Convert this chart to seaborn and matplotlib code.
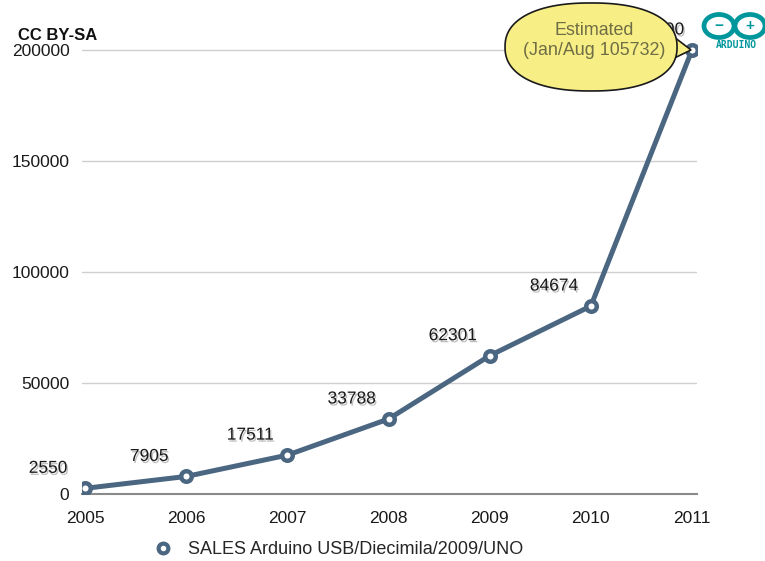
import matplotlib
matplotlib.use("Agg")
import matplotlib.pyplot as plt
import matplotlib.patheffects as pe
import matplotlib.transforms as mtransforms
from matplotlib.lines import Line2D
from matplotlib.patches import Ellipse, Polygon
import numpy as np
import seaborn as sns
import pandas as pd

years = [2005, 2006, 2007, 2008, 2009, 2010, 2011]
sales = [2550, 7905, 17511, 33788, 62301, 84674, 200000]
yticks = [0, 50000, 100000, 150000, 200000]
series_name = "SALES Arduino USB/Diecimila/2009/UNO"
bubble_text = "Estimated\n(Jan/Aug 105732)"

sns.set_theme(style="white")
plt.rcParams["font.family"] = ["Liberation Sans", "DejaVu Sans"]

df = pd.DataFrame({"year": years, "sales": sales})
line_color = "#4a6681"

fig = plt.figure(figsize=(7.65, 5.61), dpi=100)
ax = fig.add_axes([82 / 765, 67 / 561, 615 / 765, 474 / 561])

sns.lineplot(data=df, x="year", y="sales", ax=ax, color=line_color, lw=3.6,
             marker="o", markersize=7.6, markerfacecolor="white",
             markeredgecolor=line_color, markeredgewidth=3.2, zorder=5)

ax.set_xlim(2004.970, 2011.049)
ax.set_ylim(0, 213500)
ax.set_yticks(yticks)
ax.set_yticklabels([str(v) for v in yticks])
ax.set_xticks(years)
ax.set_xticklabels([str(y) for y in years])
ax.set_xlabel("")
ax.set_ylabel("")
ax.grid(axis="y", color="#cfcfcf", lw=1)
ax.grid(axis="x", visible=False)
for s in ["top", "right", "left"]:
    ax.spines[s].set_visible(False)
ax.spines["bottom"].set_color("#8a8a8a")
ax.spines["bottom"].set_linewidth(1.5)
ax.tick_params(axis="both", length=0, labelsize=12.5, colors="#1a1a1a")
ax.tick_params(axis="y", pad=9)
ax.tick_params(axis="x", pad=12)

for x, y in zip(years, sales):
    t = ax.annotate(str(y), (x, y), xytext=(-26.6, 14.4), textcoords="offset points",
                    ha="center", va="center", fontsize=12.5, color="#1a1a1a", zorder=6)
    t.set_path_effects([pe.SimplePatchShadow(offset=(1, -1.5), shadow_rgbFace="#777777", alpha=0.45),
                        pe.Normal()])

# speech bubble anchored (in inches) to the last data point
trans = fig.dpi_scale_trans + mtransforms.ScaledTranslation(years[-1], sales[-1], ax.transData)
bubble_fc = "#f7ef86"
ax.add_patch(Polygon([(-0.01, 0.0), (-0.22, 0.16), (-0.30, -0.14)], closed=True,
                     transform=trans, fc=bubble_fc, ec="#1a1a1a", lw=1.2, zorder=9, clip_on=False))
tt = np.linspace(0, 2 * np.pi, 240)
n_exp = 2.3
bx = -1.01 + 0.86 * np.sign(np.cos(tt)) * np.abs(np.cos(tt)) ** (2 / n_exp)
by = 0.03 + 0.44 * np.sign(np.sin(tt)) * np.abs(np.sin(tt)) ** (2 / n_exp)
ax.add_patch(Polygon(np.column_stack([bx, by]), closed=True, transform=trans, fc=bubble_fc,
                     ec="#1a1a1a", lw=1.2, zorder=10, clip_on=False))
ax.text(-0.98, 0.095, bubble_text, transform=trans, ha="center", va="center",
        fontsize=12.9, color="#6f6d45", linespacing=1.3, zorder=11)

# header label
fig.text(18 / 765, 1 - 36 / 561, "CC BY-SA", fontsize=12, fontweight="bold",
         color="#111111", va="center", ha="left")

# Arduino logo
teal = "#00979c"
for cx, sym in [(719, "\u2212"), (750, "+")]:
    fig.add_artist(Ellipse((cx / 765, 1 - 26 / 561), 30 / 765, 23 / 561,
                           transform=fig.transFigure, fill=False, ec=teal, lw=3.4))
    fig.text(cx / 765, 1 - 26 / 561, sym, fontsize=11, fontweight="bold",
             color=teal, ha="center", va="center")
fig.text(736 / 765, 1 - 45 / 561, "ARDUINO", fontsize=7, fontweight="bold",
         color=teal, ha="center", va="center", family=["DejaVu Sans Mono", "DejaVu Sans"])

# legend
handle = Line2D([], [], linestyle="none", marker="o", markersize=7,
                markerfacecolor="white", markeredgecolor=line_color, markeredgewidth=3)
fig.legend([handle], [series_name], loc="center", bbox_to_anchor=(334 / 765, 1 - 550 / 561),
           frameon=False, fontsize=13, handletextpad=0.4)

fig.savefig("out.png", dpi=100)
